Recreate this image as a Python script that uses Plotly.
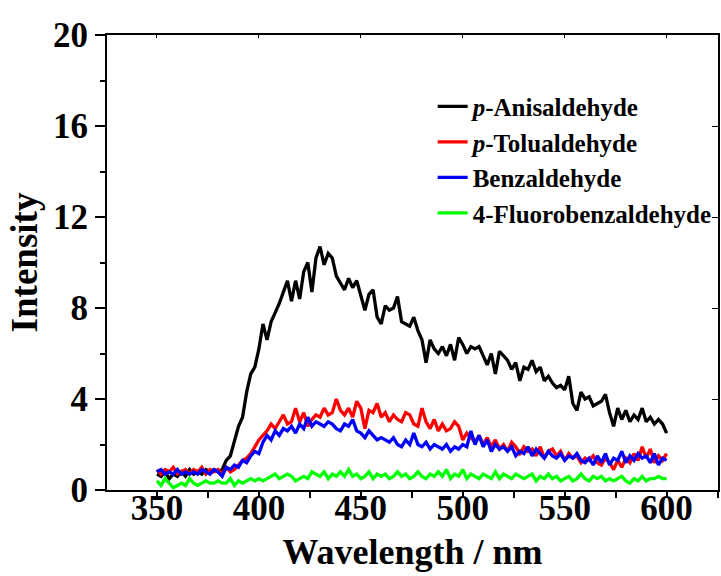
import plotly.graph_objects as go

wavelength = list(range(350, 601, 2))

anisaldehyde = [0.7, 0.6, 0.8, 0.5, 0.7, 0.6, 0.8, 0.6, 0.9, 0.7, 0.8, 0.7, 0.9, 0.8, 0.9, 0.8, 0.9,
                1.3, 1.5, 2.1, 2.8, 3.2, 4.3, 5.1, 5.4, 6.2, 7.3, 6.6, 7.4, 7.8, 8.2, 8.7, 9.2, 8.3,
                9.2, 8.4, 9.6, 10.0, 8.7, 10.2, 10.7, 9.9, 10.4, 10.2, 9.4, 9.1, 8.8, 9.3, 8.9, 9.2,
                8.5, 7.9, 8.6, 8.8, 7.6, 7.3, 8.1, 7.9, 8.0, 8.5, 7.4, 7.3, 7.2, 7.6, 7.0, 6.6, 5.6,
                6.6, 6.2, 6.0, 6.3, 5.9, 6.4, 5.7, 6.7, 6.4, 6.0, 6.3, 6.2, 6.3, 5.9, 5.5, 6.0, 5.1,
                6.1, 5.9, 5.7, 5.3, 5.6, 4.8, 5.4, 5.3, 5.7, 5.2, 5.4, 4.8, 5.0, 4.7, 4.5, 4.6, 4.4,
                5.0, 3.8, 3.5, 4.3, 4.0, 4.1, 3.7, 3.8, 3.9, 4.2, 3.4, 2.8, 3.6, 3.1, 3.5, 3.0, 3.3,
                3.1, 3.6, 3.0, 3.2, 2.9, 3.1, 2.9, 2.5]

tolualdehyde = [0.9, 0.7, 0.9, 0.8, 1.0, 0.7, 0.8, 0.9, 0.7, 0.9, 0.8, 1.0, 0.7, 0.9, 0.8, 0.9, 0.7,
                1.0, 0.8, 0.9, 1.1, 1.3, 1.4, 1.6, 1.9, 2.2, 2.4, 2.6, 2.9, 2.7, 3.0, 3.3, 2.9, 3.0,
                3.6, 3.0, 3.4, 2.8, 3.1, 3.3, 3.2, 3.6, 3.3, 3.4, 4.0, 3.5, 3.3, 3.6, 3.2, 3.9, 3.6,
                2.7, 3.5, 3.4, 3.8, 3.2, 3.4, 3.0, 3.3, 3.1, 3.0, 3.4, 3.3, 2.9, 2.8, 3.6, 3.0, 2.7,
                3.1, 2.6, 2.9, 2.6, 2.7, 3.0, 2.8, 2.2, 2.5, 2.3, 2.1, 2.4, 2.0, 2.3, 1.9, 2.2, 1.8,
                2.0, 1.7, 2.1, 1.9, 1.6, 1.9, 1.7, 1.8, 1.5, 1.9, 1.4, 1.7, 1.8, 1.5, 1.7, 1.3, 1.6,
                1.4, 1.5, 1.2, 1.4, 1.3, 1.5, 1.2, 1.1, 1.4, 1.2, 0.9, 1.3, 1.0, 1.4, 1.2, 1.6, 1.3,
                1.9, 1.4, 1.8, 1.2, 1.5, 1.3, 1.6]

benzaldehyde = [0.8, 0.9, 0.7, 0.8, 0.7, 0.9, 0.7, 0.8, 0.7, 0.8, 0.7, 0.9, 0.8, 0.7, 0.9, 0.8, 0.6,
                1.0, 0.9, 1.1, 1.0, 1.3, 1.2, 1.5, 1.7, 1.6, 2.1, 2.4, 2.2, 2.6, 2.4, 2.7, 2.6, 2.8,
                2.5, 2.9, 2.7, 3.2, 2.8, 3.0, 2.9, 2.8, 3.0, 2.9, 2.7, 2.6, 2.9, 2.8, 3.1, 2.6, 2.5,
                2.3, 2.6, 2.4, 2.2, 2.3, 2.2, 2.1, 2.3, 2.0, 1.9, 2.2, 2.0, 2.5, 2.0, 1.9, 2.1, 1.8,
                2.0, 1.9, 1.8, 2.0, 1.7, 1.9, 1.8, 2.0, 1.9, 2.6, 2.0, 2.4, 1.9, 2.2, 1.7, 2.0, 1.8,
                1.9, 1.7, 1.9, 1.5, 1.7, 1.6, 1.9, 1.5, 1.8, 1.6, 1.4, 1.7, 1.5, 1.4, 1.6, 1.3, 1.5,
                1.4, 1.6, 1.3, 1.2, 1.4, 1.1, 1.5, 1.2, 1.6, 1.1, 1.4, 1.3, 1.7, 1.2, 1.5, 1.3, 1.6,
                1.4, 1.5, 1.2, 1.6, 1.1, 1.4, 1.3]

fluorobenzaldehyde = [0.4, 0.2, 0.5, 0.3, 0.1, 0.2, 0.3, 0.2, 0.5, 0.3, 0.2, 0.3, 0.4, 0.3, 0.3, 0.4,
                      0.3, 0.3, 0.5, 0.2, 0.4, 0.3, 0.4, 0.5, 0.4, 0.5, 0.4, 0.5, 0.6, 0.7, 0.5, 0.6,
                      0.7, 0.6, 0.4, 0.5, 0.6, 0.5, 0.8, 0.7, 0.6, 0.8, 0.5, 0.7, 0.6, 0.8, 0.6, 0.9,
                      0.6, 0.7, 0.5, 0.6, 0.8, 0.5, 0.7, 0.6, 0.7, 0.5, 0.6, 0.8, 0.6, 0.7, 0.5, 0.6,
                      0.8, 0.6, 0.5, 0.7, 0.6, 0.8, 0.6, 0.9, 0.5, 0.7, 0.6, 0.9, 0.5, 0.7, 0.6, 0.5,
                      0.7, 0.6, 0.5, 0.8, 0.5, 0.7, 0.6, 0.5, 0.7, 0.6, 0.5, 0.6, 0.7, 0.4, 0.6, 0.5,
                      0.7, 0.5, 0.6, 0.4, 0.5, 0.6, 0.4, 0.5, 0.7, 0.5, 0.4, 0.6, 0.5, 0.6, 0.4, 0.5,
                      0.4, 0.5, 0.6, 0.4, 0.3, 0.5, 0.4, 0.6, 0.4, 0.5, 0.5, 0.6, 0.5, 0.5]

series = [
    ("<i>p</i>-Anisaldehyde", anisaldehyde, "#000000"),
    ("<i>p</i>-Tolualdehyde", tolualdehyde, "#ff0000"),
    ("Benzaldehyde", benzaldehyde, "#0000ff"),
    ("4-Fluorobenzaldehyde", fluorobenzaldehyde, "#00ff00"),
]

FONT = "Liberation Serif, Times New Roman, serif"

fig = go.Figure()
for name, vals, color in series:
    fig.add_trace(go.Scatter(x=wavelength, y=vals, mode="lines", name=name,
                             line=dict(color=color, width=3.3)))

# dummy trace to anchor mirror axes
fig.add_trace(go.Scatter(x=[None], y=[None], xaxis="x2", yaxis="y2", showlegend=False,
                         hoverinfo="skip"))

xr = [325.5, 625.2]
yr = [0, 20]

fig.update_layout(
    width=721, height=576,
    margin=dict(l=107, r=3, t=35, b=86),
    paper_bgcolor="white", plot_bgcolor="white",
    font=dict(family=FONT, color="black", weight="bold"),
    showlegend=True,
    legend=dict(x=0.533, y=0.893, xanchor="left", yanchor="top",
                font=dict(family=FONT, size=25, color="black", weight="bold"),
                bgcolor="rgba(0,0,0,0)", tracegroupgap=0, itemwidth=30),
    xaxis=dict(range=xr, showgrid=False, zeroline=False, showline=True, linecolor="black",
               linewidth=2, ticks="outside", ticklen=6, tickwidth=2, tickcolor="black",
               tickvals=[350, 400, 450, 500, 550, 600],
               ticktext=["350", "400", "450", "500", "550", "600"],
               tickfont=dict(family=FONT, size=35, weight="bold"),
               ticklabelstandoff=-20,
               minor=dict(tickvals=[325, 375, 425, 475, 525, 575, 625], ticks="outside",
                          ticklen=6, tickwidth=2, tickcolor="black"),
               title=dict(text="Wavelength / nm", font=dict(family=FONT, size=36, weight="bold"),
                          standoff=12)),
    yaxis=dict(range=yr, showgrid=False, zeroline=False, showline=True, linecolor="black",
               linewidth=2, ticks="outside", ticklen=10, tickwidth=2, tickcolor="black",
               tickvals=[0, 4, 8, 12, 16, 20],
               ticktext=["0", "4", "8", "12", "16", "20"],
               tickfont=dict(family=FONT, size=35, weight="bold"),
               minor=dict(tickvals=[2, 6, 10, 14, 18], ticks="outside", ticklen=5,
                          tickwidth=2, tickcolor="black"),
               title=dict(text="Intensity", font=dict(family=FONT, size=37, weight="bold"),
                          standoff=4)),
    xaxis2=dict(range=xr, overlaying="x", side="top", anchor="y2", showgrid=False,
                zeroline=False, showline=True, linecolor="black", linewidth=2,
                ticks="inside", ticklen=3, tickwidth=1, tickcolor="black",
                tickvals=[350, 400, 450, 500, 550, 600], showticklabels=False),
    yaxis2=dict(range=yr, overlaying="y", side="right", anchor="x2", showgrid=False,
                zeroline=False, showline=True, linecolor="black", linewidth=2,
                ticks="inside", ticklen=6, tickwidth=1, tickcolor="black",
                tickvals=[0, 4, 8, 12, 16, 20], showticklabels=False),
)

fig.write_html("out.html")
